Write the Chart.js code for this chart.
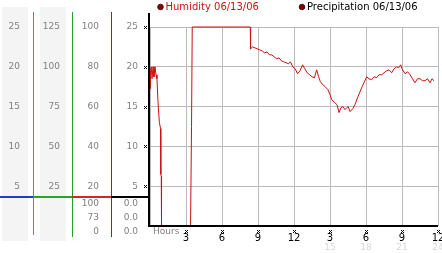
<!DOCTYPE html>
<html>
<head>
<meta charset="utf-8">
<script src="https://cdn.jsdelivr.net/npm/chart.js@4/dist/chart.umd.min.js"></script>
<style>
html, body { margin: 0; padding: 0; background: #fff; }
#wrap { width: 442px; height: 253px; }
</style>
</head>
<body>
<div id="wrap"><canvas id="myChart"></canvas></div>
<script>
// humidity readings, 06/13/06 (hours since midnight)
const hours = [
    0.00, 0.04, 0.10, 0.17, 0.25, 0.33, 0.42, 0.50, 0.58, 0.67, 0.78, 0.88, 0.90, 0.94, 0.96,
    3.38, 3.46, 3.52, 8.36, 8.38, 8.55, 8.75, 8.95, 9.15, 9.35, 9.55, 9.75, 9.95,
    10.15, 10.35, 10.55, 10.75, 10.95, 11.15, 11.35, 11.55, 11.70, 11.90, 12.10, 12.30,
    12.50, 12.72, 12.90, 13.10, 13.30, 13.50, 13.70, 13.89, 14.05, 14.20, 14.40, 14.60,
    14.83, 15.00, 15.14, 15.40, 15.58, 15.75, 15.92, 16.08, 16.25, 16.40, 16.52, 16.67,
    16.90, 17.08, 17.33, 17.64, 17.83, 18.06, 18.25, 18.47, 18.67, 18.89, 19.08, 19.31,
    19.50, 19.72, 19.92, 20.14, 20.33, 20.56, 20.71, 20.89, 21.00, 21.25, 21.46, 21.67,
    21.88, 22.08, 22.29, 22.50, 22.71, 22.92, 23.13, 23.33, 23.50, 23.67
];
const humidity = [
    69, 78, 80, 74, 80, 75, 80, 76, 74, 62, 52, 49, 26, 25, 0,
    0, 50, 100, 100, 89, 90, 89.5, 89, 88.5, 88, 87, 87.5, 86,
    86, 85, 84, 84.5, 83, 82.5, 82, 81.5, 82.5, 80, 79, 76.5,
    78, 81, 79, 77, 76, 75, 74.5, 78.5, 75, 72.5, 71, 70,
    68.5, 66, 63.5, 62, 61, 57, 59.5, 60, 58.5, 59.5, 60, 57.5,
    59, 61, 65, 69.5, 72, 75, 74, 73.5, 75, 74.5, 76, 76,
    77, 78, 78.5, 77, 79, 80, 79.5, 81, 79, 76.5, 77.5, 76,
    74, 72, 74, 74, 73, 73, 74, 72, 74, 73
];
const precipHours = [0, 23.67];
const precipitation = [0, 0];

// bottom tick labels (every 3 hours)
const hourLabels = ['', '3', '6', '9', '12', '3', '6', '9', '12'];
const lateLabels = ['', '', '', '', '', '15', '18', '21', '24'];

// stats under the left panels: max, current, min
const humidityStats = ['100', '73', '0'];
const precipStats = ['0.0', '0.0', '0.0'];

const FONT = 'DejaVu Sans';
const GRAY = '#808080';
Chart.defaults.font.family = FONT;

function noZero(v) { return v === 0 ? '' : v; }
function leftAxis(weight, max, step, width, pad) {
    return {
        position: 'left', weight: weight, min: 0, max: max,
        ticks: { stepSize: step, color: GRAY, font: { size: 9 }, padding: pad, callback: noZero },
        grid: { display: false, drawTicks: false },
        border: { display: false },
        afterFit: function (s) { s.width = width; }
    };
}

function mark(ctx, x, y) {
    x = Math.round(x); y = Math.round(y);
    ctx.fillRect(x - 1, y - 1, 1, 1);
    ctx.fillRect(x + 1, y - 1, 1, 1);
    ctx.fillRect(x, y, 1, 1);
    ctx.fillRect(x - 1, y + 1, 1, 1);
    ctx.fillRect(x + 1, y + 1, 1, 1);
}

const panels = {
    id: 'panels',
    beforeDraw(chart) {
        const ctx = chart.ctx, s = chart.scales;
        ctx.save();
        ctx.fillStyle = '#fff';
        ctx.fillRect(0, 0, chart.width, chart.height);
        ctx.fillStyle = '#f4f4f4';
        ctx.fillRect(s.y1.left + 2, 7, 26, 234);
        ctx.fillRect(s.y2.left + 7, 7, 26, 234);
        ctx.restore();
    },
    afterDraw(chart) {
        const ctx = chart.ctx, s = chart.scales, a = chart.chartArea;
        ctx.save();
        // panel separators
        ctx.fillStyle = '#3399cc'; ctx.fillRect(s.y1.right, 12, 1, 223);
        ctx.fillStyle = '#22a022'; ctx.fillRect(s.y2.right, 12, 1, 225);
        ctx.fillStyle = '#b01818'; ctx.fillRect(s.y3.right, 12, 1, 225);
        // stat bars
        const sy = a.bottom - 30;
        ctx.fillStyle = '#1c3fd0'; ctx.fillRect(s.y1.left, sy, s.y1.right - s.y1.left + 1, 2);
        ctx.fillStyle = '#1faa1f'; ctx.fillRect(s.y2.left, sy, s.y2.right - s.y2.left, 2);
        ctx.fillStyle = '#dd2222'; ctx.fillRect(s.y3.left, sy, s.y3.right - s.y3.left, 2);
        ctx.fillStyle = '#000'; ctx.fillRect(s.y4.left, sy, s.y4.right - s.y4.left, 2);
        // main axes
        ctx.fillRect(a.left - 2, 13, 2, a.bottom - 12);
        ctx.fillRect(a.left - 2, a.bottom - 1, a.right - a.left + 2, 2);
        // tick marks
        s.y4.ticks.forEach(t => { if (t.value > 0) mark(ctx, a.left - 5, s.y4.getPixelForValue(t.value)); });
        s.x.ticks.forEach(t => { if (t.value > 0) mark(ctx, s.x.getPixelForValue(t.value), a.bottom + 5); });
        // stats
        ctx.font = '9px "' + FONT + '"';
        ctx.fillStyle = GRAY;
        ctx.textAlign = 'right';
        ctx.textBaseline = 'middle';
        const rows = [204, 218, 232];
        humidityStats.forEach((t, i) => ctx.fillText(t, s.y3.right - 12, rows[i]));
        precipStats.forEach((t, i) => ctx.fillText(t, s.y4.right - 12, rows[i]));
        ctx.textAlign = 'left';
        ctx.fillText('Hours', a.left + 3, a.bottom + 6);
        // legend
        ctx.font = '10px "' + FONT + '"';
        const legendX = [160.5, 302];
        chart.data.datasets.forEach((d, i) => {
            ctx.beginPath();
            ctx.arc(legendX[i], 7, 2.8, 0, Math.PI * 2);
            ctx.fillStyle = d.backgroundColor;
            ctx.fill();
            ctx.lineWidth = 0.8;
            ctx.strokeStyle = '#300';
            ctx.stroke();
            ctx.fillStyle = d.labelColor;
            ctx.fillText(d.label, legendX[i] + 5, 7.5);
        });
        ctx.restore();
    }
};

const data = {
    datasets: [{
        label: 'Humidity 06/13/06',
        data: hours.map((h, i) => ({ x: h, y: humidity[i] })),
        yAxisID: 'y3',
        borderColor: '#cc1111',
        backgroundColor: '#880000',
        labelColor: '#cc1111',
        borderWidth: 1,
        pointRadius: 0,
        tension: 0,
        clip: false
    }, {
        label: 'Precipitation 06/13/06',
        data: precipHours.map((h, i) => ({ x: h, y: precipitation[i] })),
        yAxisID: 'y4',
        borderColor: '#000',
        backgroundColor: '#880000',
        labelColor: '#000',
        borderWidth: 2,
        pointRadius: 0,
        tension: 0
    }]
};

const config = {
    type: 'line',
    data: data,
    options: {
        responsive: false,
        animation: false,
        layout: { padding: { top: 27, right: 4, bottom: 0, left: 0 } },
        plugins: { legend: { display: false }, tooltip: { enabled: false } },
        scales: {
            x: {
                type: 'linear', position: 'bottom', weight: 1, min: 0, max: 24,
                ticks: {
                    stepSize: 3, autoSkip: false, maxRotation: 0, color: '#000',
                    font: { size: 10 }, padding: 6,
                    callback: v => hourLabels[Math.round(v / 3)]
                },
                grid: { color: '#bbbbbb', drawTicks: false },
                border: { display: false },
                afterFit: function (s) { s.height = 16; s.paddingLeft = 0; s.paddingRight = 0; }
            },
            x2: {
                type: 'linear', position: 'bottom', weight: 2, min: 0, max: 24,
                ticks: {
                    stepSize: 3, autoSkip: false, maxRotation: 0, color: '#d8d8d8',
                    font: { size: 9 }, padding: 0,
                    callback: v => lateLabels[Math.round(v / 3)]
                },
                grid: { display: false, drawTicks: false },
                border: { display: false },
                afterFit: function (s) { s.height = 11; s.paddingLeft = 0; s.paddingRight = 0; }
            },
            y1: leftAxis(4, 25, 5, 33, 13),
            y2: leftAxis(3, 125, 25, 39, 12),
            y3: leftAxis(2, 100, 20, 39, 12),
            y4: Object.assign(leftAxis(1, 25, 5, 39, 12), {
                grid: { color: '#bbbbbb', drawTicks: false }
            })
        }
    },
    plugins: [panels]
};

const canvas = document.getElementById('myChart');
canvas.width = 442;
canvas.height = 253;
const myChart = new Chart(canvas, config);
</script>
</body>
</html>
